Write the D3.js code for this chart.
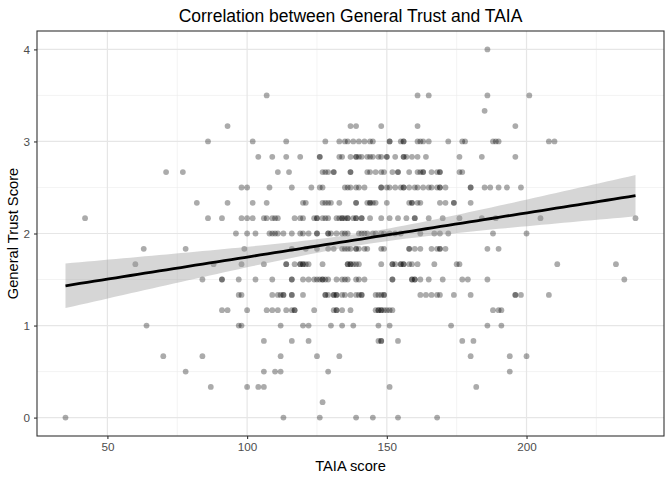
<!DOCTYPE html>
<html>
<head>
<meta charset="utf-8">
<script src="https://cdn.jsdelivr.net/npm/d3@7"></script>
<style>
  html, body { margin: 0; padding: 0; background: #fff; }
  svg { display: block; font-family: "Liberation Sans", Arial, Helvetica, sans-serif; }
</style>
</head>
<body>
<svg id="chart" width="672" height="480"></svg>
<script>
// General Trust Score levels (answers come in steps of one sixth)
const trustLevels = [0, 0.167, 0.333, 0.5, 0.667, 0.833, 1, 1.167, 1.333, 1.5, 1.667, 1.833,
  2, 2.167, 2.333, 2.5, 2.667, 2.833, 3, 3.167, 3.333, 3.5, 3.667, 3.833, 4];

// TAIA scores of the respondents found at each trust level (same order as trustLevels)
const taiaByLevel = [
  [35, 113, 126, 139, 145, 154, 168],
  [127],
  [87, 100, 104, 106, 151, 182],
  [78, 106, 110, 112, 129, 194],
  [70, 84, 112, 125, 133, 180, 194, 200],
  [106, 116, 122, 147, 148, 148, 154, 177, 181],
  [64, 97, 98, 112, 120, 122, 130, 134, 138, 147, 151, 173, 186, 191],
  [91, 93, 100, 107, 109, 111, 114, 116, 117, 117, 124, 131, 132, 132, 134, 137, 146, 147, 147,
    148, 148, 149, 150, 151, 152, 188, 190, 191],
  [97, 98, 109, 111, 112, 113, 113, 116, 116, 120, 128, 128, 129, 131, 131, 132, 132, 134, 135,
    137, 139, 140, 141, 141, 146, 147, 148, 149, 149, 162, 164, 166, 168, 169, 174, 180, 196, 196,
    198, 208],
  [84, 91, 91, 97, 103, 109, 116, 116, 120, 122, 124, 125, 126, 127, 127, 128, 129, 132, 134, 135,
    136, 139, 140, 142, 152, 152, 159, 159, 160, 160, 162, 165, 170, 177, 179, 186, 235],
  [60, 88, 98, 106, 114, 114, 117, 119, 119, 120, 120, 121, 122, 127, 136, 136, 137, 137, 138, 139,
    140, 148, 152, 152, 153, 155, 155, 156, 156, 158, 159, 161, 167, 175, 176, 211, 232],
  [63, 78, 99, 116, 121, 125, 129, 131, 134, 135, 136, 137, 139, 139, 140, 142, 143, 148, 149, 158,
    158, 160, 162, 166, 168, 169, 169, 171, 186, 190],
  [96, 100, 103, 108, 109, 110, 111, 113, 116, 119, 120, 122, 125, 125, 129, 129, 130, 132, 134,
    135, 136, 140, 141, 142, 143, 145, 146, 148, 149, 151, 153, 155, 162, 167, 169, 172, 188, 200],
  [42, 86, 91, 98, 100, 102, 106, 107, 109, 110, 111, 117, 119, 120, 124, 125, 125, 127, 128, 129,
    132, 133, 134, 134, 135, 136, 136, 138, 139, 139, 141, 141, 144, 148, 151, 154, 157, 160, 160,
    165, 170, 176, 184, 189, 205, 239],
  [82, 93, 102, 107, 120, 121, 127, 128, 129, 130, 133, 139, 139, 143, 144, 144, 145, 146, 150,
    158, 159, 159, 161, 162, 169, 171, 174, 174, 180],
  [98, 100, 108, 116, 123, 126, 127, 135, 136, 137, 139, 140, 142, 148, 148, 150, 151, 153, 155,
    156, 156, 158, 160, 161, 163, 165, 166, 168, 169, 169, 171, 180, 180, 185, 187, 190, 193, 198],
  [71, 77, 111, 115, 127, 128, 129, 131, 131, 137, 137, 143, 144, 146, 148, 149, 152, 154, 154,
    158, 161, 162, 163, 163, 166, 168, 169, 169, 176, 177],
  [104, 109, 114, 119, 126, 126, 133, 134, 137, 139, 139, 140, 141, 143, 144, 145, 147, 148, 150,
    150, 153, 156, 156, 157, 159, 161, 164, 176, 184, 196],
  [86, 102, 114, 128, 133, 135, 136, 138, 140, 142, 144, 145, 151, 151, 155, 156, 156, 161, 162,
    163, 165, 172, 177, 178, 188, 189, 190, 208, 210],
  [93, 137, 139, 148, 161, 196],
  [185],
  [107, 161, 165, 186, 201],
  [],
  [],
  [186]
];

const xTicks = [50, 100, 150, 200];
const xMinor = [75, 125, 175, 225];
const yTicks = [0, 1, 2, 3, 4];
const yMinor = [0.5, 1.5, 2.5, 3.5];

const titleText = 'Correlation between General Trust and TAIA';
const xTitle = 'TAIA score';
const yTitle = 'General Trust Score';

// flatten into points
const points = [];
taiaByLevel.forEach((xs, i) => {
  xs.forEach(x => points.push({ x: x, y: trustLevels[i] }));
});

// panel box
const panel = { left: 37, right: 664, top: 31, bottom: 436 };

const svg = d3.select('#chart');

const xExt = d3.extent(points, d => d.x);
const yExt = d3.extent(points, d => d.y);
const xPad = (xExt[1] - xExt[0]) * 0.05;
const yPad = (yExt[1] - yExt[0]) * 0.05;

const x = d3.scaleLinear()
  .domain([xExt[0] - xPad, xExt[1] + xPad])
  .range([panel.left, panel.right]);
const y = d3.scaleLinear()
  .domain([yExt[0] - yPad, yExt[1] + yPad])
  .range([panel.bottom, panel.top]);

// linear model + 95% confidence band
const n = points.length;
const mx = d3.mean(points, d => d.x);
const my = d3.mean(points, d => d.y);
const sxx = d3.sum(points, d => (d.x - mx) ** 2);
const sxy = d3.sum(points, d => (d.x - mx) * (d.y - my));
const slope = sxy / sxx;
const intercept = my - slope * mx;
const rss = d3.sum(points, d => (d.y - (intercept + slope * d.x)) ** 2);
const sigma = Math.sqrt(rss / (n - 2));
const tCrit = 1.9655;
const fitX = d3.range(80).map(i => xExt[0] + (xExt[1] - xExt[0]) * i / 79);
const fit = fitX.map(v => {
  const yhat = intercept + slope * v;
  const se = sigma * Math.sqrt(1 / n + (v - mx) ** 2 / sxx);
  return { x: v, y: yhat, lo: yhat - tCrit * se, hi: yhat + tCrit * se };
});

// gridlines
const grid = svg.append('g');
grid.selectAll('.xminor').data(xMinor).join('line')
  .attr('x1', d => x(d)).attr('x2', d => x(d))
  .attr('y1', panel.top).attr('y2', panel.bottom)
  .attr('stroke', '#ebebeb').attr('stroke-width', 0.6);
grid.selectAll('.yminor').data(yMinor).join('line')
  .attr('x1', panel.left).attr('x2', panel.right)
  .attr('y1', d => y(d)).attr('y2', d => y(d))
  .attr('stroke', '#ebebeb').attr('stroke-width', 0.6);
grid.selectAll('.xmajor').data(xTicks).join('line')
  .attr('x1', d => x(d)).attr('x2', d => x(d))
  .attr('y1', panel.top).attr('y2', panel.bottom)
  .attr('stroke', '#e6e6e6').attr('stroke-width', 1.2);
grid.selectAll('.ymajor').data(yTicks).join('line')
  .attr('x1', panel.left).attr('x2', panel.right)
  .attr('y1', d => y(d)).attr('y2', d => y(d))
  .attr('stroke', '#e6e6e6').attr('stroke-width', 1.2);

// points
svg.append('g').selectAll('circle').data(points).join('circle')
  .attr('cx', d => x(d.x))
  .attr('cy', d => y(d.y))
  .attr('r', 2.9)
  .attr('fill', '#000')
  .attr('fill-opacity', 0.33);

// band and line
svg.append('path')
  .datum(fit)
  .attr('d', d3.area().x(d => x(d.x)).y0(d => y(d.lo)).y1(d => y(d.hi)))
  .attr('fill', '#999999')
  .attr('fill-opacity', 0.4);
svg.append('path')
  .datum(fit)
  .attr('d', d3.line().x(d => x(d.x)).y(d => y(d.y)))
  .attr('fill', 'none')
  .attr('stroke', '#000')
  .attr('stroke-width', 2.8);

// panel border
svg.append('rect')
  .attr('x', panel.left).attr('y', panel.top)
  .attr('width', panel.right - panel.left)
  .attr('height', panel.bottom - panel.top)
  .attr('fill', 'none')
  .attr('stroke', '#333333')
  .attr('stroke-width', 1.1);

// axes
const xAxis = svg.append('g')
  .attr('transform', `translate(0,${panel.bottom})`)
  .call(d3.axisBottom(x).tickValues(xTicks).tickFormat(d3.format('d')).tickSize(3).tickPadding(4));
const yAxis = svg.append('g')
  .attr('transform', `translate(${panel.left},0)`)
  .call(d3.axisLeft(y).tickValues(yTicks).tickFormat(d3.format('d')).tickSize(3).tickPadding(4));
[xAxis, yAxis].forEach(a => {
  a.select('.domain').remove();
  a.selectAll('.tick line').attr('stroke', '#333333').attr('stroke-width', 1.1);
  a.selectAll('.tick text')
    .attr('fill', '#4d4d4d')
    .style('font-size', '11.7px')
    .style('font-family', '"Liberation Sans", Arial, Helvetica, sans-serif');
});

// titles
svg.append('text')
  .attr('x', (panel.left + panel.right) / 2)
  .attr('y', 22)
  .attr('text-anchor', 'middle')
  .style('font-size', '17.5px')
  .attr('fill', '#000')
  .text(titleText);
svg.append('text')
  .attr('x', (panel.left + panel.right) / 2)
  .attr('y', 471)
  .attr('text-anchor', 'middle')
  .style('font-size', '14.7px')
  .attr('fill', '#000')
  .text(xTitle);
svg.append('text')
  .attr('transform', `translate(18,${(panel.top + panel.bottom) / 2}) rotate(-90)`)
  .attr('text-anchor', 'middle')
  .style('font-size', '14.7px')
  .attr('fill', '#000')
  .text(yTitle);
</script>
</body>
</html>
